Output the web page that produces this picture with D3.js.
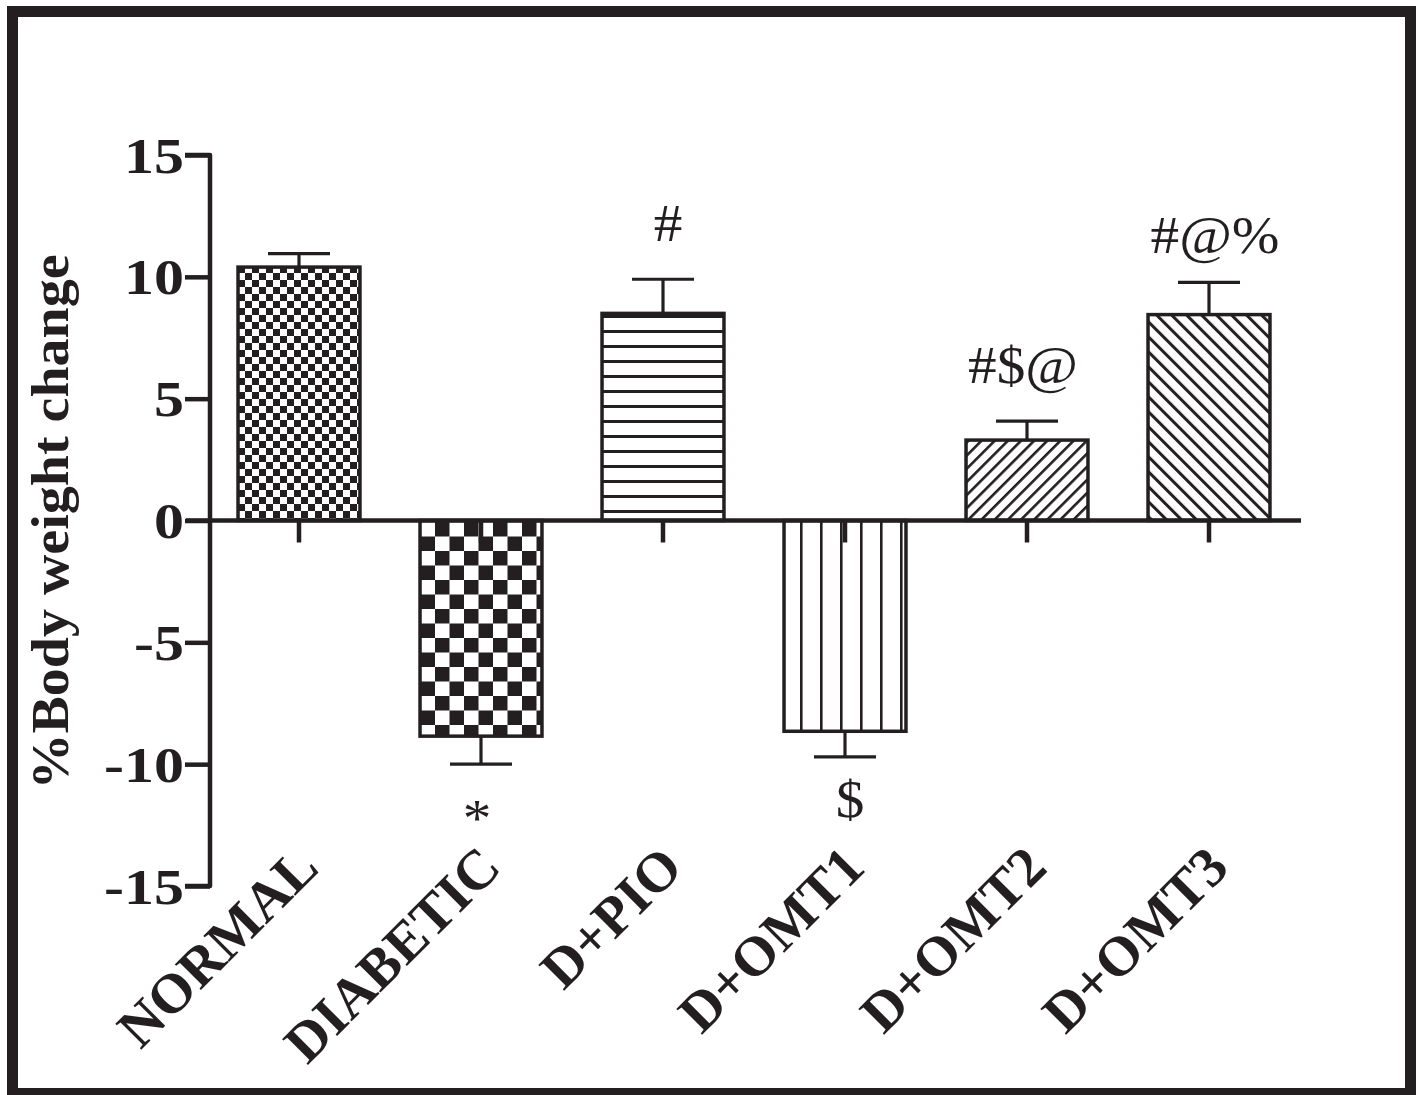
<!DOCTYPE html>
<html><head><meta charset="utf-8">
<script src="https://cdn.jsdelivr.net/npm/d3@7"></script>
<style>html,body{margin:0;padding:0;background:#fff;}svg{display:block;}</style>
</head><body>
<svg id="chart" width="1421" height="1095"></svg>
<script>
const categories = ["NORMAL","DIABETIC","D+PIO","D+OMT1","D+OMT2","D+OMT3"];
const values = [10.4, -8.85, 8.5, -8.65, 3.3, 8.45];
const errors = [0.55, 1.15, 1.4, 1.05, 0.78, 1.32];
const annotations = ["", "*", "#", "$", "#$@", "#@%"];
const yTicks = [-15,-10,-5,0,5,10,15];
const yLabel = "%Body weight change";
const patternIds = ["chkS","chkL","hl","vl","dA","dB"];
const annoShift = [0, -4, 5, 5, -4, 6];
const annoDy = [0, 0, 0, 0, 0, 9];

const ink = "#231f20";
const svg = d3.select("#chart");
const defs = svg.append("defs");

function pat(id, w, h, tf){
  const p = defs.append("pattern").attr("id", id).attr("patternUnits","userSpaceOnUse")
    .attr("width", w).attr("height", h);
  if (tf) p.attr("patternTransform", tf);
  p.append("rect").attr("width", w).attr("height", h).attr("fill","#fff");
  return p;
}
let p = pat("chkS", 14, 14);
p.append("rect").attr("width",7).attr("height",7).attr("fill",ink);
p.append("rect").attr("x",7).attr("y",7).attr("width",7).attr("height",7).attr("fill",ink);
p = pat("chkL", 29, 29);
p.append("rect").attr("width",14.5).attr("height",14.5).attr("fill",ink);
p.append("rect").attr("x",14.5).attr("y",14.5).attr("width",14.5).attr("height",14.5).attr("fill",ink);
p = pat("hl", 20, 15);
p.append("rect").attr("y",0).attr("width",20).attr("height",3).attr("fill",ink);
p = pat("vl", 20, 20);
p.append("rect").attr("x",0).attr("width",2.6).attr("height",20).attr("fill",ink);
p = pat("dA", 9.3, 20, "rotate(45)");
p.append("rect").attr("x",0).attr("width",2.6).attr("height",20).attr("fill",ink);
p = pat("dB", 10.6, 20, "rotate(-45)");
p.append("rect").attr("x",0).attr("width",3).attr("height",20).attr("fill",ink);

svg.append("rect").attr("x",12.5).attr("y",11.5).attr("width",1398).attr("height",1082)
  .attr("fill","none").attr("stroke",ink).attr("stroke-width",11);

const x = d3.scaleBand().domain(categories).range([208, 1300]).paddingInner(0.33).paddingOuter(0.165);
const y = d3.scaleLinear().domain([-15, 15]).range([886, 155]);

const serif = "Liberation Serif, Times New Roman, Times, serif";

const g = svg.append("g");
categories.forEach((c, i) => {
  const v = values[i];
  const x0 = x(c), bw = x.bandwidth(), cx = x0 + bw/2;
  const top = y(Math.max(0, v)), bot = y(Math.min(0, v));
  g.append("rect").attr("x", x0).attr("y", top).attr("width", bw).attr("height", bot - top)
    .attr("fill", `url(#${patternIds[i]})`).attr("stroke", ink).attr("stroke-width", 3.5);
  const ev = v >= 0 ? v + errors[i] : v - errors[i];
  g.append("line").attr("x1", cx).attr("x2", cx).attr("y1", y(v)).attr("y2", y(ev))
    .attr("stroke", ink).attr("stroke-width", 3.2);
  g.append("line").attr("x1", cx - 31).attr("x2", cx + 31).attr("y1", y(ev)).attr("y2", y(ev))
    .attr("stroke", ink).attr("stroke-width", 3.2);
  if (annotations[i]) {
    let ty;
    if (v >= 0) ty = y(ev) - 38 + annoDy[i];
    else ty = y(ev) + (annotations[i] === "*" ? 72 : 60);
    g.append("text").attr("transform", `translate(${cx + annoShift[i]},${ty}) scale(1.1,1)`)
      .attr("text-anchor","middle")
      .style("font-family", serif).attr("font-size", 52).attr("fill", ink).text(annotations[i]);
  }
});

const yAxis = svg.append("g").attr("transform","translate(210,0)")
  .call(d3.axisLeft(y).tickValues(yTicks).tickSize(25).tickPadding(3).tickFormat(d => String(d)));
yAxis.select(".domain").attr("stroke", ink).attr("stroke-width", 4.5)
  .attr("d", `M-25,${y(15)}H0V${y(-15)}H-25`).attr("stroke-linejoin","round").attr("fill","none");
yAxis.selectAll(".tick line").attr("stroke", ink).attr("stroke-width", 4.5);
yAxis.selectAll(".tick text").style("font-family", serif).attr("font-weight","bold")
  .attr("font-size", 50).attr("fill", ink).attr("dy","0.34em")
  .attr("x", 0).attr("transform", "translate(-26,0) scale(1.2,1)");

const xa = svg.append("g");
xa.append("line").attr("x1", 186).attr("x2", 1301).attr("y1", y(0)).attr("y2", y(0))
  .attr("stroke", ink).attr("stroke-width", 4.5);
categories.forEach(c => {
  const cx = x(c) + x.bandwidth()/2;
  xa.append("line").attr("x1", cx).attr("x2", cx).attr("y1", y(0)).attr("y2", y(0) + 22)
    .attr("stroke", ink).attr("stroke-width", 4.5);
  xa.append("text").attr("transform", `translate(${cx + 22},${870}) rotate(-45)`)
    .attr("text-anchor","end").style("font-family", serif).attr("font-weight","bold")
    .attr("font-size", 56).attr("fill", ink).text(c);
});

svg.append("text").attr("transform", `translate(68,${522}) rotate(-90)`)
  .attr("text-anchor","middle").style("font-family", serif).attr("font-weight","bold")
  .attr("font-size", 52).attr("fill", ink)
  .attr("textLength", 535).attr("lengthAdjust", "spacingAndGlyphs").text(yLabel);
</script>
</body></html>
